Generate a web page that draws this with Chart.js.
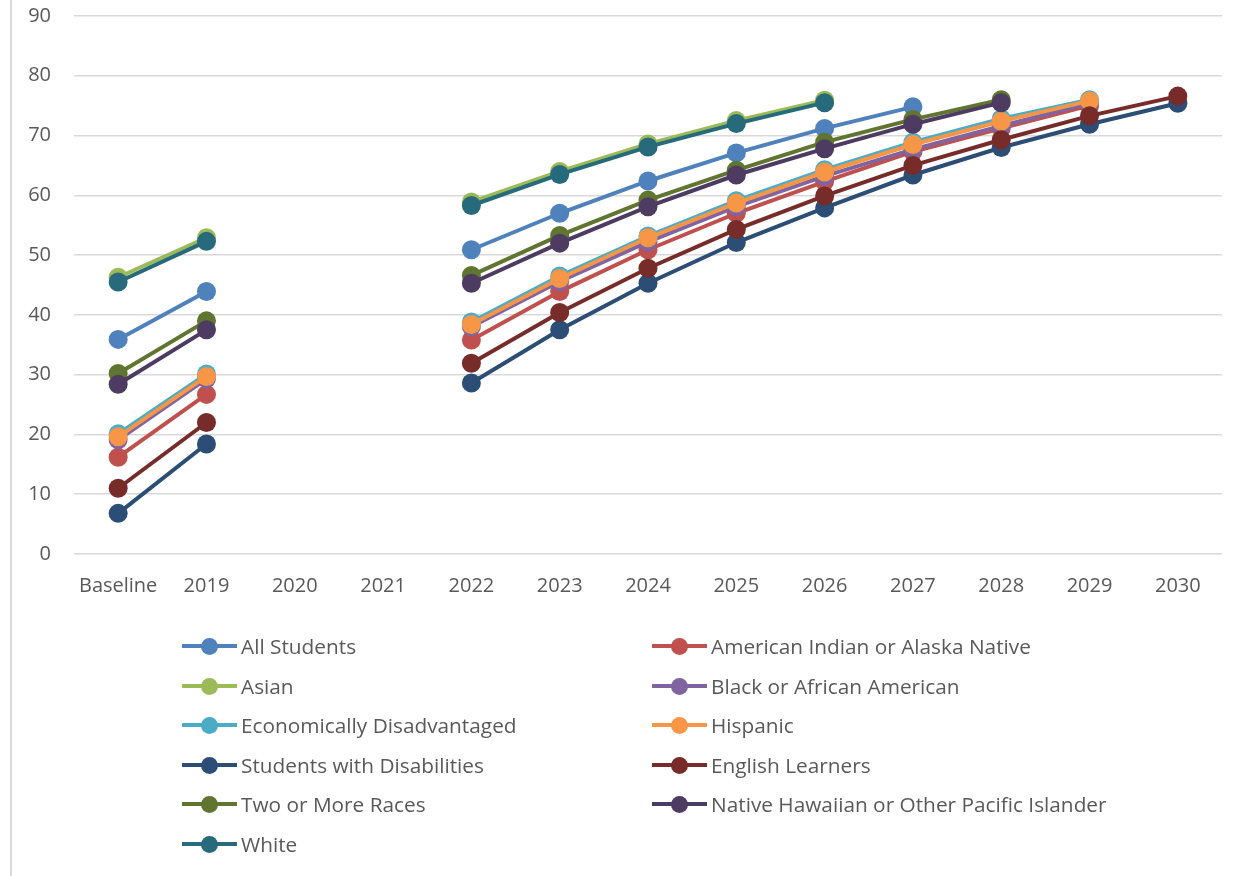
<!DOCTYPE html>
<html>
<head>
<meta charset="utf-8">
<script src="https://cdn.jsdelivr.net/npm/chart.js@4.4.0/dist/chart.umd.min.js"></script>
<style>
  body { margin: 0; background: #fff; }
  #wrap { position: relative; width: 1247px; height: 876px; overflow: hidden; }
  #border { position: absolute; left: 10px; top: 0; width: 2px; height: 876px; background: #d9d9d9; }
  #chart { position: absolute; left: 0; top: 0; }
  .item { position: absolute; height: 24px; display: flex; align-items: center;
          font-family: "Open Sans", sans-serif; font-size: 20.8px; color: #595959; white-space: nowrap; }
  .mark { position: relative; width: 55px; height: 24px; margin-right: 4px; }
  .mark .ln { position: absolute; left: 0; right: 0; top: 10px; height: 4px; }
  .mark .dot { position: absolute; left: 19px; top: 4px; width: 17px; height: 17px; border-radius: 50%; }
</style>
</head>
<body>
<div id="wrap">
  <div id="border"></div>
  <canvas id="chart" width="1247" height="876"></canvas>
  <div id="legend"></div>
</div>
<script>
const categories = ["Baseline", "2019", "2020", "2021", "2022", "2023", "2024", "2025", "2026", "2027", "2028", "2029", "2030"];

const allStudents = [35.9, 43.9, null, null, 50.9, 57.0, 62.4, 67.1, 71.2, 74.8, null, null, null];
const americanIndian = [16.2, 26.7, null, null, 35.8, 43.9, 50.9, 57.0, 62.3, 67.3, 71.2, 75.0, null];
const asian = [46.3, 52.9, null, null, 58.9, 64.0, 68.6, 72.5, 75.9, null, null, null, null];
const black = [19.1, 29.3, null, null, 38.0, 45.6, 52.2, 58.1, 63.2, 67.7, 71.6, 75.4, null];
const econDisadv = [20.1, 30.1, null, null, 38.8, 46.5, 53.2, 59.1, 64.3, 68.9, 72.8, 76.0, null];
const hispanic = [19.6, 29.7, null, null, 38.4, 46.1, 52.9, 58.7, 63.9, 68.5, 72.4, 75.8, null];
const disabilities = [6.8, 18.4, null, null, 28.6, 37.5, 45.3, 52.1, 57.9, 63.4, 68.0, 71.9, 75.4];
const englishLearners = [11.0, 22.0, null, null, 31.9, 40.4, 47.8, 54.3, 59.9, 65.0, 69.3, 73.3, 76.6];
const twoOrMore = [30.2, 39.0, null, null, 46.6, 53.3, 59.2, 64.2, 68.9, 72.7, 76.0, null, null];
const nativeHawaiian = [28.4, 37.5, null, null, 45.3, 52.0, 58.1, 63.4, 67.8, 71.9, 75.5, null, null];
const white = [45.5, 52.3, null, null, 58.3, 63.5, 68.1, 72.0, 75.5, null, null, null, null];

const seriesNames = ["All Students", "American Indian or Alaska Native", "Asian", "Black or African American",
  "Economically Disadvantaged", "Hispanic", "Students with Disabilities", "English Learners",
  "Two or More Races", "Native Hawaiian or Other Pacific Islander", "White"];
const seriesValues = [allStudents, americanIndian, asian, black, econDisadv, hispanic,
  disabilities, englishLearners, twoOrMore, nativeHawaiian, white];
const yTicks = [0, 10, 20, 30, 40, 50, 60, 70, 80, 90];

const colors = ["#4F81BD", "#C0504D", "#9BBB59", "#8064A2", "#4BACC6", "#F79646",
  "#2C4D75", "#772C2A", "#5F7530", "#4D3B62", "#276A7C"];

const datasets = seriesNames.map((name, i) => ({
  label: name,
  data: seriesValues[i],
  borderColor: colors[i],
  backgroundColor: colors[i],
  pointBackgroundColor: colors[i],
  pointBorderColor: colors[i],
  pointBorderWidth: 0,
  pointRadius: 9.5,
  borderWidth: 4,
  tension: 0,
  spanGaps: false,
  order: seriesNames.length - i, // later series drawn on top, like Excel
}));

const ctx = document.getElementById("chart").getContext("2d");
new Chart(ctx, {
  type: "line",
  data: { labels: categories, datasets: datasets },
  options: {
    responsive: false,
    animation: false,
    devicePixelRatio: 1,
    layout: { padding: { left: 0, right: 25, top: 16, bottom: 0 } },
    scales: {
      x: {
        offset: true,
        grid: { display: false },
        border: { display: false },
        ticks: {
          color: "#595959",
          font: { family: "Open Sans", size: 20 },
          padding: 12,
          maxRotation: 0,
          autoSkip: false,
        },
        afterFit: (scale) => {
          scale.height = 876 - 554;
          scale.paddingLeft = 0;
          scale.paddingRight = 0;
        },
      },
      y: {
        min: 0,
        max: 90,
        afterBuildTicks: (scale) => { scale.ticks = yTicks.map((v) => ({ value: v })); },
        grid: { color: "#d9d9d9", lineWidth: 1.5, drawTicks: false },
        border: { display: false },
        ticks: {
          color: "#595959",
          font: { family: "Open Sans", size: 20 },
          padding: 23,
        },
        afterFit: (scale) => {
          scale.width = 74;
          scale.paddingTop = 0;
          scale.paddingBottom = 0;
        },
      },
    },
    plugins: {
      legend: { display: false },
      tooltip: { enabled: false },
    },
  },
});

// legend in two columns, row-wise like the original
const legend = document.getElementById("legend");
seriesNames.forEach((name, i) => {
  const row = Math.floor(i / 2);
  const col = i % 2;
  const item = document.createElement("div");
  item.className = "item";
  item.style.left = (col === 0 ? 182 : 652) + "px";
  item.style.top = (634 + row * 39.6) + "px";
  item.innerHTML = '<span class="mark"><span class="ln" style="background:' + colors[i] +
    '"></span><span class="dot" style="background:' + colors[i] + '"></span></span>' + name;
  legend.appendChild(item);
});
</script>
</body>
</html>
